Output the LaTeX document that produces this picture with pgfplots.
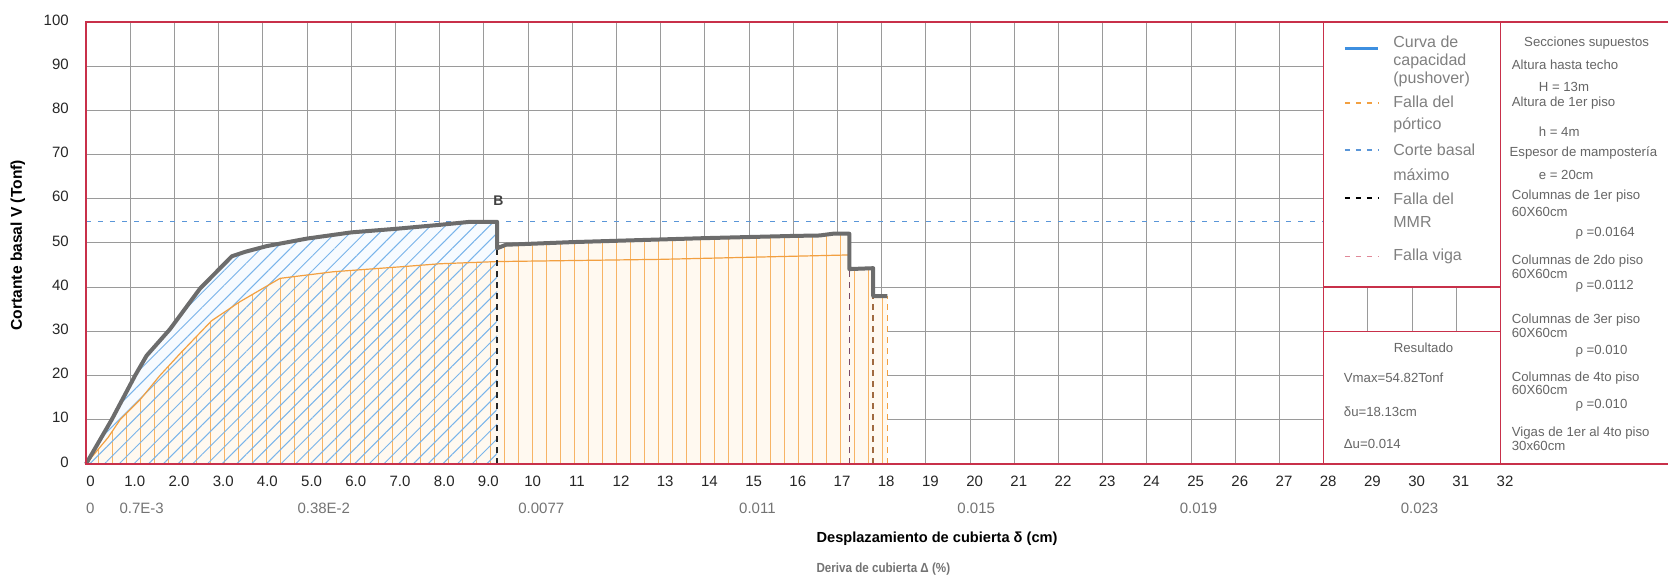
\documentclass[border=0pt]{standalone}
\usepackage{fontspec}
\setmainfont{Liberation Sans}
\usepackage{pgfplots}
\pgfplotsset{compat=1.18}
\usetikzlibrary{patterns.meta}
\definecolor{frame}{HTML}{C8304A}
\definecolor{gridc}{HTML}{9A9A9A}
\definecolor{curve}{HTML}{6C6C6C}
\definecolor{orng}{HTML}{F2A041}
\definecolor{hatchO}{HTML}{F7B465}
\definecolor{hatchB}{HTML}{79B4EA}
\definecolor{paleO}{HTML}{FFF9F0}
\definecolor{paleB}{HTML}{F7FBFF}
\definecolor{bdash}{HTML}{5A96D8}
\definecolor{leg}{HTML}{3D8FE0}
\definecolor{txtg}{HTML}{808080}
\definecolor{viga}{HTML}{E08898}
\definecolor{vigad}{HTML}{7A4A66}
\definecolor{brn}{HTML}{A06A40}
\newcommand{\lt}[3]{\node[anchor=west,text=txtg,font=\fontsize{8}{9}\selectfont,inner sep=0pt] at (axis cs:#1,#2) {#3};}
\newcommand{\pt}[3]{\node[anchor=west,text=black!60,font=\fontsize{6.6}{8}\selectfont,inner sep=0pt] at (axis cs:#1,#2) {#3};}
\newcommand{\dl}[2]{\node[text=black!55,font=\fontsize{7.5}{9}\selectfont,inner sep=0pt] at (axis cs:#1,-10.0) {#2};}
\begin{document}
\begin{tikzpicture}
\begin{axis}[
  x=22.1pt, y=2.21pt,
  xmin=0, xmax=35.8, ymin=0, ymax=100,
  clip=false,
  axis line style={draw=none},
  tick style={draw=none},
  xtick={0,...,32},
  xticklabels={0,1.0,2.0,3.0,4.0,5.0,6.0,7.0,8.0,9.0,10,11,12,13,14,15,16,17,18,19,20,21,22,23,24,25,26,27,28,29,30,31,32},
  ytick={0,10,...,100},
  grid=major,
  major grid style={gridc, line width=0.5pt},
  xticklabel style={font=\fontsize{7.5}{9}\selectfont, text=black!85, anchor=center, xshift=2.3pt, yshift=-8.85pt},
  yticklabel style={font=\fontsize{7.5}{9}\selectfont, text=black!85, anchor=east, xshift=-5.1pt, yshift=1pt},
  /pgf/number format/assume math mode=true,
]
\coordinate (O) at (axis cs:0,0);
% pale fills
\addplot[draw=none, fill=paleB] coordinates {
 (0,0) (0.58,10) (1.11,20) (1.37,24.5) (1.9,30.5) (2.58,39.7) (3.3,47.0) (3.6,48.0)
 (4.09,49.3) (5,51.0) (6,52.4) (7,53.2) (8,54.1) (8.7,54.8) (9.3,54.8)} \closedcycle;
\addplot[draw=none, fill=paleO] coordinates {
 (0,0) (0.5,6) (0.77,10) (1.22,14.5) (1.67,20) (2.13,25) (2.84,32.4) (3.48,36.7) (4.39,42.0)
 (5.6,43.5) (7.1,44.6) (8.0,45.3) (9.3,45.8) (9.3,48.8) (9.5,49.6) (11,50.2) (12,50.5) (14,51.1)
 (16,51.6) (16.6,51.7) (16.9,52.1) (17.27,52.1) (17.27,44.1) (17.81,44.3) (17.81,38.0) (18.13,38.0)} \closedcycle;
% hatches
\addplot[draw=none, pattern={Lines[angle=90,distance=7pt,line width=0.5pt]}, pattern color=hatchO] coordinates {
 (0,0) (0.5,6) (0.77,10) (1.22,14.5) (1.67,20) (2.13,25) (2.84,32.4) (3.48,36.7) (4.39,42.0)
 (5.6,43.5) (7.1,44.6) (8.0,45.3) (9.3,45.8) (9.3,48.8) (9.5,49.6) (11,50.2) (12,50.5) (14,51.1)
 (16,51.6) (16.6,51.7) (16.9,52.1) (17.27,52.1) (17.27,44.1) (17.81,44.3) (17.81,38.0) (18.13,38.0)} \closedcycle;
\addplot[draw=none, pattern={Lines[angle=45,distance=5.2pt,line width=0.5pt]}, pattern color=hatchB] coordinates {
 (0,0) (0.58,10) (1.11,20) (1.37,24.5) (1.9,30.5) (2.58,39.7) (3.3,47.0) (3.6,48.0)
 (4.09,49.3) (5,51.0) (6,52.4) (7,53.2) (8,54.1) (8.7,54.8) (9.3,54.8)} \closedcycle;
% orange curve (falla del portico)
\addplot[orng, line width=0.6pt] coordinates {
 (0,0) (0.5,6) (0.77,10) (1.22,14.5) (1.67,20) (2.13,25) (2.84,32.4) (3.48,36.7) (4.39,42.0)
 (5.6,43.5) (7.1,44.6) (8.0,45.3) (9.3,45.8) (13,46.3) (17.27,47.3)};
% corte basal maximo
\addplot[bdash, line width=0.6pt, dash pattern=on 2.5pt off 3.5pt] coordinates {(0,54.82) (28,54.82)};
% vertical failure lines
\addplot[black!85, line width=0.9pt, dash pattern=on 3pt off 2.5pt] coordinates {(9.3,0) (9.3,48.8)};
\addplot[vigad, line width=0.8pt, dash pattern=on 3pt off 2.5pt] coordinates {(17.27,0) (17.27,44.1)};
\addplot[brn, line width=0.8pt, dash pattern=on 3pt off 2.5pt] coordinates {(17.81,0) (17.81,38.0)};
\addplot[orng, line width=0.8pt, dash pattern=on 3pt off 2.5pt] coordinates {(18.13,0) (18.13,38.0)};
% pushover curve
\addplot[curve, line width=2pt, line join=round] coordinates {
 (0,0) (0.58,10) (1.11,20) (1.37,24.5) (1.9,30.5) (2.58,39.7) (3.3,47.0) (3.6,48.0)
 (4.09,49.3) (5,51.0) (6,52.4) (7,53.2) (8,54.1) (8.7,54.8) (9.3,54.8) (9.3,48.8) (9.5,49.6)
 (11,50.2) (12,50.5) (14,51.1) (16,51.6) (16.6,51.7) (16.9,52.1) (17.27,52.1) (17.27,44.1)
 (17.81,44.3) (17.81,38.0) (18.13,38.0)};
\node[font=\fontsize{7}{8}\selectfont\bfseries, text=black!75] at (axis cs:9.33,59.6) {B};
% boxes
\fill[white] (axis cs:28,40) rectangle (axis cs:32,100);
\fill[white] (axis cs:28,0) rectangle (axis cs:32,30);
\fill[white] (axis cs:32,0) rectangle (axis cs:35.8,100);
\draw[frame, line width=0.8pt] (axis cs:35.8,100) -- (axis cs:0,100) -- (axis cs:0,0) -- (axis cs:35.8,0);
\draw[frame, line width=0.8pt] (axis cs:28,0) -- (axis cs:28,100);
\draw[frame, line width=0.8pt] (axis cs:32,0) -- (axis cs:32,100);
\draw[frame, line width=0.8pt] (axis cs:28,40) -- (axis cs:32,40);
\draw[frame, line width=0.8pt] (axis cs:28,30) -- (axis cs:32,30);
% legend
\draw[leg, line width=1.8pt] (axis cs:28.48,94.0) -- (axis cs:29.24,94.0);
\draw[orng, line width=0.7pt, dash pattern=on 2.5pt off 3pt] (axis cs:28.48,81.7) -- (axis cs:29.24,81.7);
\draw[bdash, line width=0.7pt, dash pattern=on 2.5pt off 3pt] (axis cs:28.48,71.0) -- (axis cs:29.24,71.0);
\draw[black, line width=0.8pt, dash pattern=on 2.5pt off 3pt] (axis cs:28.48,60.2) -- (axis cs:29.24,60.2);
\draw[viga, line width=0.7pt, dash pattern=on 2.5pt off 3pt] (axis cs:28.48,46.9) -- (axis cs:29.24,46.9);
\lt{29.57}{95.5}{Curva de}
\lt{29.57}{91.0}{capacidad}
\lt{29.57}{87.0}{(pushover)}
\lt{29.57}{81.9}{Falla del}
\lt{29.57}{76.7}{pórtico}
\lt{29.57}{71.0}{Corte basal}
\lt{29.57}{65.5}{máximo}
\lt{29.57}{60.1}{Falla del}
\lt{29.57}{54.8}{MMR}
\lt{29.57}{46.9}{Falla viga}
% results
\node[text=black!60,font=\fontsize{6.6}{8}\selectfont,inner sep=0pt] at (axis cs:30.26,26.4) {Resultado};
\pt{28.45}{19.4}{Vmax=54.82Tonf}
\pt{28.45}{11.8}{δu=18.13cm}
\pt{28.45}{4.5}{Δu=0.014}
% sections panel
\node[text=black!60,font=\fontsize{6.6}{8}\selectfont,inner sep=0pt] at (axis cs:33.95,95.2) {Secciones supuestos};
\pt{32.25}{90.3}{Altura hasta techo}
\pt{32.86}{85.4}{H = 13m}
\pt{32.25}{81.6}{Altura de 1er piso}
\pt{32.86}{75.2}{h = 4m}
\pt{32.2}{70.3}{Espesor de mampostería}
\pt{32.86}{65.4}{e = 20cm}
\pt{32.25}{60.5}{Columnas de 1er piso}
\pt{32.25}{57.1}{60X60cm}
\pt{33.69}{52.2}{ρ =0.0164}
\pt{32.25}{45.8}{Columnas de 2do piso}
\pt{32.25}{43.1}{60X60cm}
\pt{33.69}{40.1}{ρ =0.0112}
\pt{32.25}{32.6}{Columnas de 3er piso}
\pt{32.25}{29.6}{60X60cm}
\pt{33.69}{25.6}{ρ =0.010}
\pt{32.25}{19.4}{Columnas de 4to piso}
\pt{32.25}{16.7}{60X60cm}
\pt{33.69}{13.3}{ρ =0.010}
\pt{32.25}{6.9}{Vigas de 1er al 4to piso}
\pt{32.25}{4.1}{30x60cm}
% drift labels
\dl{0.1}{0}
\dl{1.26}{0.7E-3}
\dl{5.38}{0.38E-2}
\dl{10.3}{0.0077}
\dl{15.19}{0.011}
\dl{20.14}{0.015}
\dl{25.17}{0.019}
\dl{30.17}{0.023}
% axis titles
\node[anchor=west,font=\fontsize{7.3}{9}\selectfont\bfseries,inner sep=0pt] at (axis cs:16.52,-16.8) {Desplazamiento de cubierta δ (cm)};
\node[anchor=west,font=\fontsize{6.6}{8}\selectfont\bfseries,text=black!55,inner sep=0pt,xscale=0.88] at (axis cs:16.52,-23.8) {Deriva de cubierta Δ (\%)};
\node[rotate=90,font=\fontsize{7.8}{9}\selectfont\bfseries,inner sep=0pt] at (axis cs:-1.54,49.5) {Cortante basal V (Tonf)};
\end{axis}
\pgfresetboundingbox
\path[use as bounding box] (O) ++(-43pt,-59.5pt) rectangle ++(834.5pt,291.5pt);
\end{tikzpicture}
\end{document}
